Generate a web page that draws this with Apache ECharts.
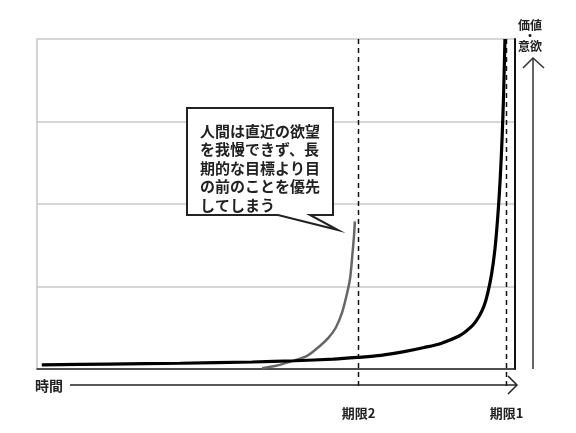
<!DOCTYPE html>
<html>
<head>
<meta charset="utf-8">
<script src="https://cdn.jsdelivr.net/npm/echarts@6/dist/echarts.min.js"></script>
<style>
html,body{margin:0;padding:0;background:#fff;}
#chart{width:576px;height:433px;}
</style>
</head>
<body>
<div id="chart"></div>
<script>
// ---- data ----
const xMin = 0, xMax = 100;
const yMin = 0, yMax = 4, yInterval = 1;
// long-term (deadline 1) motivation curve: [time, value]
const curve1 = [[1.0,0.05],[15,0.06],[30,0.07],[45,0.085],[54,0.10],[62,0.12],[67,0.14],[72,0.165],[76.8,0.21],[81,0.26],[84.5,0.31],[88.3,0.40],[90,0.47],[91.3,0.54],[92.5,0.64],[93.5,0.76],[94.3,0.92],[95.1,1.15],[95.8,1.45],[96.4,1.85],[96.9,2.3],[97.3,2.8],[97.6,3.3],[97.9,4.0]];
// short-term (deadline 2) motivation curve
const curve2 = [[47.1,0.01],[50,0.04],[53,0.09],[56.5,0.16],[59,0.27],[61,0.38],[62.5,0.5],[63.8,0.68],[64.8,0.9],[65.5,1.1],[66.0,1.4],[66.3,1.6],[66.5,1.79]];
const deadlineX = [67.2, 98.1];
const deadlineLabels = ['期限2', '期限1'];
const xAxisName = '時間';
const yAxisName = '価値\n・\n意欲';
const calloutText = '人間は直近の欲望\nを我慢できず、長\n期的な目標より目\nの前のことを優先\nしてしまう';

const FONT = '"Noto Sans CJK JP", "Noto Sans", sans-serif';
const chart = echarts.init(document.getElementById('chart'), null, {renderer: 'canvas'});

const option = {
  animation: false,
  backgroundColor: '#fff',
  grid: {left: 37, right: 61, top: 39, bottom: 64, containLabel: false},
  xAxis: {
    type: 'value', min: xMin, max: xMax,
    axisLine: {show: true, lineStyle: {color: '#222', width: 1.5}},
    axisTick: {show: false}, axisLabel: {show: false}, splitLine: {show: false}
  },
  yAxis: [{
    type: 'value', min: yMin, max: yMax, interval: yInterval,
    axisLine: {show: true, lineStyle: {color: '#c4c4c4', width: 1.5}},
    axisTick: {show: false}, axisLabel: {show: false},
    splitLine: {show: true, lineStyle: {color: '#c8c8c8', width: 1.5}}
  }, {
    type: 'value', min: yMin, max: yMax, position: 'right',
    axisLine: {show: true, lineStyle: {color: '#111', width: 2}},
    axisTick: {show: false}, axisLabel: {show: false}, splitLine: {show: false}
  }],
  series: [{
    type: 'line', data: curve2, showSymbol: false, smooth: 0.3,
    lineStyle: {color: '#666', width: 2.5}, z: 3
  }, {
    type: 'line', data: curve1, showSymbol: false, smooth: 0.3,
    lineStyle: {color: '#000', width: 3.2}, z: 4
  }]
};
chart.setOption(option);

const topPx = chart.convertToPixel({yAxisIndex: 0}, yMax);
const botPx = chart.convertToPixel({yAxisIndex: 0}, yMin);
const rightPx = chart.convertToPixel({xAxisIndex: 0}, xMax);
const graphics = [];

deadlineX.forEach(function (dx, i) {
  const px = Math.round(chart.convertToPixel({xAxisIndex: 0}, dx)) + 0.5;
  graphics.push({
    type: 'line', z: 2,
    shape: {x1: px, y1: topPx, x2: px, y2: botPx + 18},
    style: {stroke: '#111', lineWidth: 1.5, lineDash: [5, 4]}
  });
  graphics.push({
    type: 'text', z: 10,
    style: {x: px, y: 413, text: deadlineLabels[i], textAlign: 'center', textVerticalAlign: 'middle',
      font: 'bold 13px ' + FONT, fill: '#222'}
  });
});

// time arrow
const arrowY = botPx + 16;
graphics.push({type: 'line', z: 10, shape: {x1: 70, y1: arrowY, x2: rightPx + 2, y2: arrowY}, style: {stroke: '#222', lineWidth: 1.5}});
graphics.push({type: 'polyline', z: 10, shape: {points: [[rightPx - 7, arrowY - 9], [rightPx + 2, arrowY], [rightPx - 7, arrowY + 9]]}, style: {stroke: '#222', lineWidth: 1.5, fill: null}});
graphics.push({type: 'text', z: 10, style: {x: 49, y: arrowY + 1, text: xAxisName, textAlign: 'center', textVerticalAlign: 'middle', font: 'bold 14px ' + FONT, fill: '#222'}});

// value arrow
const vx = rightPx + 18;
graphics.push({type: 'line', z: 10, shape: {x1: vx, y1: 58, x2: vx, y2: botPx}, style: {stroke: '#333', lineWidth: 1.5}});
graphics.push({type: 'polyline', z: 10, shape: {points: [[vx - 10, 68], [vx, 58], [vx + 11, 68]]}, style: {stroke: '#333', lineWidth: 1.5, fill: null}});
graphics.push({type: 'text', z: 10, style: {x: vx - 3, y: 36, text: yAxisName, textAlign: 'center', textVerticalAlign: 'middle', font: 'bold 12px ' + FONT, lineHeight: 10.5, fill: '#222'}});

// callout
graphics.push({
  type: 'polygon', z: 20,
  shape: {points: [[187, 108], [333, 108], [333, 215], [310, 215], [338, 230], [278, 215], [187, 215]]},
  style: {fill: '#fff', stroke: '#222', lineWidth: 2, lineJoin: 'miter'}
});
graphics.push({
  type: 'text', z: 21,
  style: {x: 200, y: 122, text: calloutText, font: 'bold 15px ' + FONT, lineHeight: 18.5, fill: '#222', textVerticalAlign: 'top'}
});

chart.setOption({graphic: graphics});
</script>
</body>
</html>
